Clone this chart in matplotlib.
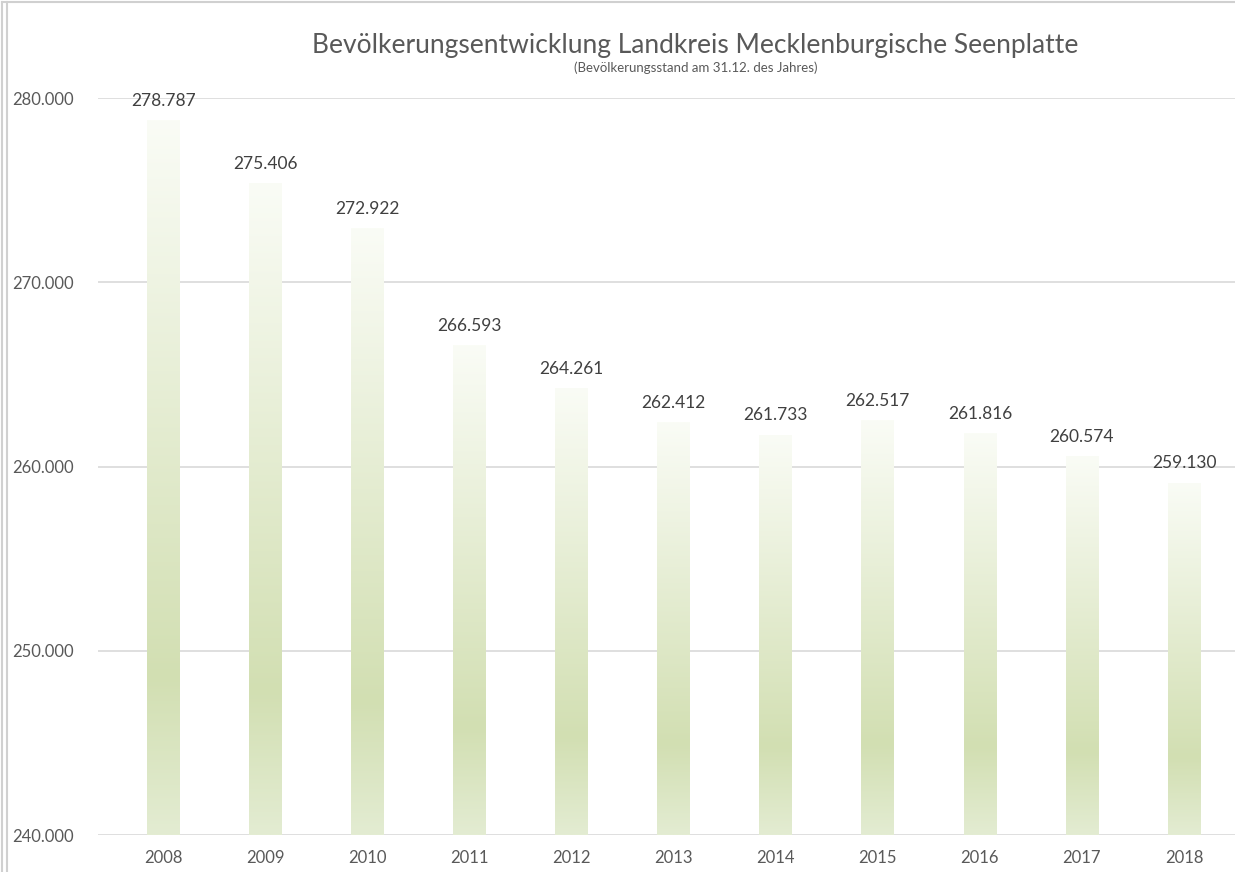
import matplotlib.pyplot as plt
import numpy as np
from matplotlib.colors import LinearSegmentedColormap
from matplotlib.lines import Line2D

plt.rcParams['font.family'] = ['Lato', 'DejaVu Sans']

# Bevölkerungsstand am 31.12.
years = ['2008', '2009', '2010', '2011', '2012', '2013', '2014', '2015', '2016', '2017', '2018']
population = [278787, 275406, 272922, 266593, 264261, 262412, 261733, 262517, 261816, 260574, 259130]
yticks = [240000, 250000, 260000, 270000, 280000]

def de_fmt(v):
    return '{:,}'.format(int(v)).replace(',', '.')

fig = plt.figure(figsize=(12.35, 8.72), dpi=100)
ax = fig.add_axes([0.0794, 0.0424, 0.9206, 0.8452])

x = np.arange(len(years))
bars = ax.bar(x, population, width=0.32, color='none', edgecolor='none', zorder=2)

# vertical gradient inside every bar
cmap = LinearSegmentedColormap.from_list(
    'grn', [(0.0, '#fafcf6'), (0.78, '#d2dfb2'), (1.0, '#e3ecd2')])
grad = np.linspace(0, 1, 256).reshape(-1, 1)
for b in bars:
    x0, w = b.get_x(), b.get_width()
    im = ax.imshow(grad, cmap=cmap, aspect='auto', zorder=2,
                   extent=[x0, x0 + w, 240000, b.get_height()], origin='upper')
    im.set_clip_path(b)

for xi, v in zip(x, population):
    ax.annotate(de_fmt(v), (xi, v), xytext=(0, 8), textcoords='offset points',
                ha='center', va='bottom', fontsize=12.5, color='#404040', zorder=3)

ax.set_xlim(-0.64, 10.5)
ax.set_ylim(240000, 280000)
ax.set_yticks(yticks)
ax.set_yticklabels([de_fmt(t) for t in yticks])
ax.set_xticks(x)
ax.set_xticklabels(years)
ax.tick_params(length=0, labelsize=12, labelcolor='#595959')
ax.tick_params(axis='x', pad=11)
ax.yaxis.set_tick_params(pad=62)
for lab in ax.get_yticklabels():
    lab.set_horizontalalignment('left')
ax.grid(axis='y', color='#d9d9d9', linewidth=1.2, zorder=0)
ax.set_axisbelow(True)
for s in ax.spines.values():
    s.set_visible(False)

fig.text(0.563, 0.948, 'Bevölkerungsentwicklung Landkreis Mecklenburgische Seenplatte',
         ha='center', va='center', fontsize=19, color='#595959')
fig.text(0.563, 0.922, '(Bevölkerungsstand am 31.12. des Jahres)',
         ha='center', va='center', fontsize=9.5, color='#595959')

# chart border on the left and top
fig.add_artist(Line2D([0.002, 0.002], [0, 0.998], color='#d0d0d0', lw=1.5, transform=fig.transFigure))
fig.add_artist(Line2D([0.006, 0.006], [0, 0.998], color='#d0d0d0', lw=1.5, transform=fig.transFigure))
fig.add_artist(Line2D([0.002, 1], [0.998, 0.998], color='#d0d0d0', lw=1.5, transform=fig.transFigure))

fig.savefig('out.png', dpi=100)
